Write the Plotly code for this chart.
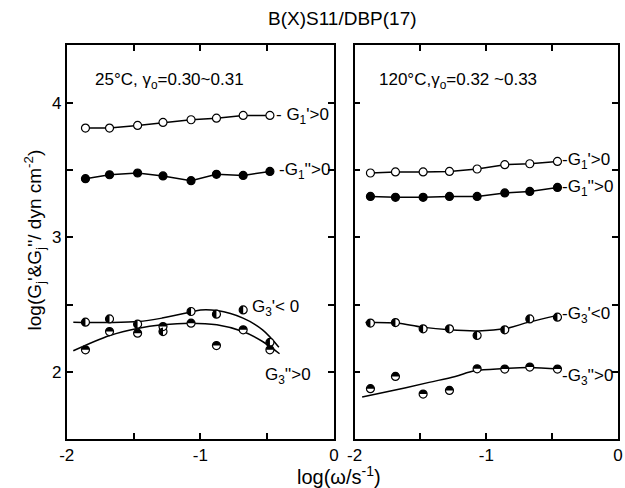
import numpy as np
import plotly.graph_objects as go

# ---- measured harmonics, log(G/dyn cm^-2) vs log(w/s^-1) ----
log_w_25 = [-1.86, -1.68, -1.47, -1.28, -1.07, -0.88, -0.68, -0.48]
log_w_120 = [-1.88, -1.69, -1.48, -1.28, -1.07, -0.86, -0.67, -0.46]

g1p_25 = [3.812, 3.812, 3.832, 3.854, 3.874, 3.886, 3.906, 3.906]
g1pp_25 = [3.436, 3.465, 3.478, 3.456, 3.421, 3.468, 3.460, 3.490]
g3p_25 = [2.369, 2.393, 2.354, 2.299, 2.448, 2.428, 2.460, 2.218]
g3pp_25 = [2.163, 2.299, 2.287, 2.336, 2.361, 2.195, 2.312, 2.163]

g1p_120 = [3.478, 3.486, 3.486, 3.490, 3.508, 3.540, 3.547, 3.564]
g1pp_120 = [3.304, 3.297, 3.297, 3.304, 3.304, 3.330, 3.341, 3.371]
g3p_120 = [2.362, 2.366, 2.319, 2.319, 2.270, 2.312, 2.393, 2.406]
g3pp_120 = [1.874, 1.965, 1.834, 1.861, 2.022, 2.020, 2.035, 2.020]

# smooth guide curves through the third harmonics
fit_g3p_25_x = [-1.951, -1.678, -1.463, -1.287, -1.077, -0.999, -0.877, -0.681, -0.535, -0.413]
fit_g3p_25_y = [2.369, 2.366, 2.373, 2.399, 2.443, 2.460, 2.455, 2.399, 2.312, 2.183]
fit_g3pp_25_x = [-1.951, -1.678, -1.463, -1.287, -1.077, -0.877, -0.681, -0.535, -0.408]
fit_g3pp_25_y = [2.156, 2.270, 2.324, 2.349, 2.361, 2.349, 2.299, 2.225, 2.134]
fit_g3p_120_x = [-1.918, -1.683, -1.489, -1.281, -1.063, -0.853, -0.677, -0.444]
fit_g3p_120_y = [2.366, 2.362, 2.332, 2.312, 2.304, 2.321, 2.369, 2.423]
fit_g3pp_120_x = [-1.943, -1.683, -1.435, -1.236, -1.088, -0.865, -0.679, -0.444]
fit_g3pp_120_y = [1.812, 1.866, 1.921, 1.965, 2.007, 2.024, 2.032, 2.020]

x_tickvals = [-2, -1.5, -1, -0.5, 0]
x_ticktext = ["-2", "", "-1", "", "0"]
y_tickvals = [2, 2.5, 3, 3.5, 4]
y_ticktext = ["2", "", "3", "", "4"]

W, H = 625, 488
FONT = "Liberation Sans"
X_RANGE = [-2, 0]
Y_RANGE = [1.5, 4.43]
DOM_X1 = [60 / W, 333 / W]
DOM_X2 = [354 / W, 623 / W]
DOM_Y = [(H - 439) / H, (H - 45) / H]
MS = 8  # marker diameter in px

fig = go.Figure()


def px_per_unit(dom, rng, size):
    return (dom[1] - dom[0]) * size / (rng[1] - rng[0])


shapes = []


def half_disks(xs, ys, xref, yref, dom_x, side):
    """Black half of a circle marker: 'left' or 'top' half filled."""
    sx = px_per_unit(dom_x, X_RANGE, W)
    sy = px_per_unit(DOM_Y, Y_RANGE, H)
    r = MS / 2.0
    if side == "left":
        th = np.linspace(np.pi / 2, 3 * np.pi / 2, 15)
    else:
        th = np.linspace(0, np.pi, 15)
    for x0, y0 in zip(xs, ys):
        px = x0 + r * np.cos(th) / sx
        py = y0 + r * np.sin(th) / sy
        path = "M " + " L ".join(f"{a:.5f},{b:.5f}" for a, b in zip(px, py)) + " Z"
        shapes.append(dict(type="path", path=path, xref=xref, yref=yref,
                           fillcolor="black", line=dict(width=0), layer="above"))


def panel(xr, yr, dom_x, lw, g1p, g1pp, g3p, g3pp, fits):
    line = dict(color="black", width=1.5)
    # fitted curves
    for fx, fy in fits:
        fig.add_trace(go.Scatter(x=fx, y=fy, mode="lines", line_shape="spline",
                                 line=line, xaxis=xr, yaxis=yr, showlegend=False,
                                 hoverinfo="skip"))
    fig.add_trace(go.Scatter(x=lw, y=g1p, mode="lines+markers", line=line,
                             marker=dict(symbol="circle", size=MS, color="white",
                                         line=dict(color="black", width=1.2)),
                             xaxis=xr, yaxis=yr, showlegend=False))
    fig.add_trace(go.Scatter(x=lw, y=g1pp, mode="lines+markers", line=line,
                             marker=dict(symbol="circle", size=MS, color="black",
                                         line=dict(color="black", width=1.2)),
                             xaxis=xr, yaxis=yr, showlegend=False))
    for ys in (g3p, g3pp):
        fig.add_trace(go.Scatter(x=lw, y=ys, mode="markers",
                                 marker=dict(symbol="circle", size=MS, color="white",
                                             line=dict(color="black", width=1.2)),
                                 xaxis=xr, yaxis=yr, showlegend=False))
    half_disks(lw, g3p, xr, yr, dom_x, "left")
    half_disks(lw, g3pp, xr, yr, dom_x, "top")


panel("x", "y", DOM_X1, log_w_25, g1p_25, g1pp_25, g3p_25, g3pp_25,
      [(fit_g3p_25_x, fit_g3p_25_y), (fit_g3pp_25_x, fit_g3pp_25_y)])
panel("x2", "y2", DOM_X2, log_w_120, g1p_120, g1pp_120, g3p_120, g3pp_120,
      [(fit_g3p_120_x, fit_g3p_120_y), (fit_g3pp_120_x, fit_g3pp_120_y)])

axis_common = dict(showline=True, linecolor="black", linewidth=1.6, mirror="ticks",
                   ticks="inside", ticklen=6, tickwidth=1.5, tickcolor="black",
                   showgrid=False, zeroline=False,
                   tickfont=dict(family=FONT, size=17, color="black"))

fig.update_layout(
    width=W, height=H,
    margin=dict(l=0, r=0, t=0, b=0),
    paper_bgcolor="white", plot_bgcolor="white",
    xaxis=dict(domain=DOM_X1, range=X_RANGE, tickmode="array", tickvals=x_tickvals,
               ticktext=x_ticktext, anchor="y", **axis_common),
    yaxis=dict(domain=DOM_Y, range=Y_RANGE, tickmode="array", tickvals=y_tickvals,
               ticktext=y_ticktext, anchor="x", **axis_common),
    xaxis2=dict(domain=DOM_X2, range=X_RANGE, tickmode="array", tickvals=x_tickvals,
                ticktext=x_ticktext, anchor="y2", **axis_common),
    yaxis2=dict(domain=DOM_Y, range=Y_RANGE, tickmode="array", tickvals=y_tickvals,
                ticktext=y_ticktext, anchor="x2", showticklabels=False, **axis_common),
    shapes=shapes,
)

FS = 17
ann = []


def label(xr, yr, x, y, text, size=FS, anchor="left"):
    ann.append(dict(xref=xr, yref=yr, x=x, y=y, text=text, showarrow=False,
                    xanchor=anchor, yanchor="middle",
                    font=dict(family=FONT, size=size, color="black")))


# series labels, 25 °C
label("x", "y", -0.45, 3.905, "- G<sub>1</sub>'>0")
label("x", "y", -0.43, 3.49, "-G<sub>1</sub>''>0")
label("x", "y", -0.63, 2.475, "G<sub>3</sub>'< 0")
label("x", "y", -0.53, 1.97, "G<sub>3</sub>''>0")
# series labels, 120 °C
label("x2", "y2", -0.44, 3.565, "-G<sub>1</sub>'>0")
label("x2", "y2", -0.44, 3.37, "-G<sub>1</sub>''>0")
label("x2", "y2", -0.44, 2.42, "-G<sub>3</sub>'<0")
label("x2", "y2", -0.44, 1.96, "-G<sub>3</sub>''>0")
# conditions
label("x", "y", -1.8, 4.16, "25°C, γ<sub>o</sub>=0.30~0.31")
label("x2", "y2", -1.83, 4.16, "120°C,γ<sub>o</sub>=0.32 ~0.33")

# title and axis titles
ann.append(dict(xref="paper", yref="paper", x=342 / W, y=(H - 19) / H,
                text="B(X)S11/DBP(17)", showarrow=False, xanchor="center",
                yanchor="middle", font=dict(family=FONT, size=19, color="black")))
ann.append(dict(xref="paper", yref="paper", x=338 / W, y=(H - 475) / H,
                text="log(ω/s<sup>-1</sup>)", showarrow=False, xanchor="center",
                yanchor="middle", font=dict(family=FONT, size=20, color="black")))
ann.append(dict(xref="paper", yref="paper", x=27 / W, y=(H - 240) / H,
                text="log(G<sub>j</sub>'&G<sub>j</sub>''/ dyn cm<sup>-2</sup>)",
                showarrow=False, textangle=-90, xanchor="center", yanchor="middle",
                font=dict(family=FONT, size=19, color="black")))
fig.update_layout(annotations=ann)

fig.write_html("out.html")
